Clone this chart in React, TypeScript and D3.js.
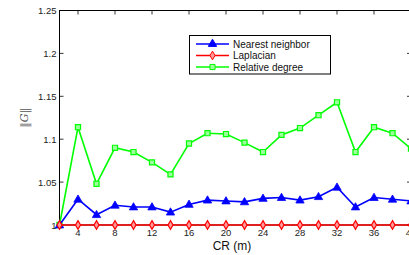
import React, { useEffect, useRef } from 'react';
import * as d3 from 'd3';

const crValues = [2, 4, 6, 8, 10, 12, 14, 16, 18, 20, 22, 24, 26, 28, 30, 32, 34, 36, 38, 40];
const nearestNeighbor = [1.0, 1.030, 1.012, 1.023, 1.021, 1.021, 1.015, 1.024, 1.029, 1.028, 1.027, 1.031, 1.032, 1.029, 1.033, 1.044, 1.021, 1.032, 1.030, 1.028];
const laplacian = [1, 1, 1, 1, 1, 1, 1, 1, 1, 1, 1, 1, 1, 1, 1, 1, 1, 1, 1, 1];
const relativeDegree = [1.0, 1.114, 1.048, 1.090, 1.085, 1.073, 1.059, 1.095, 1.107, 1.106, 1.096, 1.085, 1.105, 1.113, 1.128, 1.143, 1.085, 1.114, 1.107, 1.089];
const xTicks = [4, 8, 12, 16, 20, 24, 28, 32, 36, 40];
const yTicks = [1, 1.05, 1.1, 1.15, 1.2, 1.25];
const seriesNames = ['Nearest neighbor', 'Laplacian', 'Relative degree'];

export default function App() {
  const svgRef = useRef<SVGSVGElement>(null);

  useEffect(() => {
    if (!svgRef.current) return;
    const svg = d3.select(svgRef.current);
    svg.selectAll('*').remove();

    const left = 59.5, right = 411, top = 10.5, bottom = 225;
    const x = d3.scaleLinear().domain([2, 40]).range([left, right]);
    const y = d3.scaleLinear().domain([1, 1.25]).range([bottom, top]);
    const font = 'Liberation Sans, Arial, sans-serif';

    const g = svg.append('g');

    // box
    g.append('rect')
      .attr('x', left).attr('y', top)
      .attr('width', right - left).attr('height', bottom - top)
      .attr('fill', 'white').attr('stroke', 'black').attr('stroke-width', 1);

    // x ticks (inward, top and bottom)
    xTicks.forEach(t => {
      g.append('line').attr('x1', x(t)).attr('x2', x(t)).attr('y1', bottom).attr('y2', bottom - 4)
        .attr('stroke', 'black').attr('stroke-width', 0.8);
      g.append('line').attr('x1', x(t)).attr('x2', x(t)).attr('y1', top).attr('y2', top + 4)
        .attr('stroke', 'black').attr('stroke-width', 0.8);
      g.append('text').attr('x', x(t)).attr('y', bottom + 10.5)
        .attr('text-anchor', 'middle').attr('font-family', font).attr('font-size', 9.5)
        .attr('fill', '#222').text(t);
    });

    yTicks.forEach(t => {
      g.append('line').attr('x1', left).attr('x2', left + 4).attr('y1', y(t)).attr('y2', y(t))
        .attr('stroke', 'black').attr('stroke-width', 0.8);
      g.append('line').attr('x1', right).attr('x2', right - 4).attr('y1', y(t)).attr('y2', y(t))
        .attr('stroke', 'black').attr('stroke-width', 0.8);
      g.append('text').attr('x', left - 3).attr('y', y(t) + 3.5)
        .attr('text-anchor', 'end').attr('font-family', font).attr('font-size', 9.5)
        .attr('fill', '#222').text(d3.format('')(t));
    });

    // axis labels
    g.append('text').attr('x', 232).attr('y', 249.5).attr('text-anchor', 'middle')
      .attr('font-family', font).attr('font-size', 12).attr('fill', '#111').text('CR (m)');
    g.append('text').attr('transform', `translate(28,${(top + bottom) / 2}) rotate(-90)`)
      .attr('text-anchor', 'middle').attr('font-family', 'DejaVu Serif, serif').attr('font-style', 'italic')
      .attr('font-size', 11).attr('fill', '#555').text('\u2016G\u2016');

    const line = d3.line<number>().x((_, i) => x(crValues[i])).y(d => y(d));

    const triangle = d3.symbol().type(d3.symbolTriangle).size(30);
    const diamond = d3.symbol().type(d3.symbolDiamond).size(22);
    const square = d3.symbol().type(d3.symbolSquare).size(26);

    const drawSeries = (data: number[], color: string, kind: string) => {
      g.append('path').datum(data).attr('d', line)
        .attr('fill', 'none').attr('stroke', color).attr('stroke-width', 1.6);
      data.forEach((v, i) => {
        const px = x(crValues[i]), py = y(v);
        if (kind === 'tri') {
          g.append('path').attr('d', triangle()).attr('transform', `translate(${px},${py + 0.5})`)
            .attr('fill', color).attr('stroke', color).attr('stroke-width', 0.8);
        } else if (kind === 'dia') {
          g.append('path').attr('d', diamond()).attr('transform', `translate(${px},${py})`)
            .attr('fill', '#ff9a9a').attr('stroke', color).attr('stroke-width', 1.2);
        } else {
          g.append('path').attr('d', square()).attr('transform', `translate(${px},${py})`)
            .attr('fill', '#9cff9c').attr('stroke', color).attr('stroke-width', 1.2);
        }
      });
    };

    drawSeries(relativeDegree, '#00ff00', 'sq');
    drawSeries(nearestNeighbor, '#0000ff', 'tri');
    drawSeries(laplacian, '#ff0000', 'dia');

    // legend
    const lg = g.append('g');
    lg.append('rect').attr('x', 189.5).attr('y', 35.5).attr('width', 141).attr('height', 38.5)
      .attr('fill', 'white').attr('stroke', 'black').attr('stroke-width', 1);
    const colors = ['#0000ff', '#ff0000', '#00ff00'];
    const fills = ['#0000ff', '#ff9a9a', '#9cff9c'];
    const shapes = [triangle, diamond, square];
    seriesNames.forEach((name, i) => {
      const ly = 44 + i * 11.5;
      lg.append('line').attr('x1', 196).attr('x2', 229).attr('y1', ly).attr('y2', ly)
        .attr('stroke', colors[i]).attr('stroke-width', 1.6);
      lg.append('path').attr('d', shapes[i]()).attr('transform', `translate(212.5,${ly})`)
        .attr('fill', fills[i]).attr('stroke', colors[i]).attr('stroke-width', 1);
      lg.append('text').attr('x', 233).attr('y', ly + 3.5)
        .attr('font-family', font).attr('font-size', 10).attr('fill', '#111').text(name);
    });
  }, []);

  return (
    <svg ref={svgRef} width={409} height={255}
      style={{ position: 'absolute', left: 0, top: 0, background: 'white' }} />
  );
}
